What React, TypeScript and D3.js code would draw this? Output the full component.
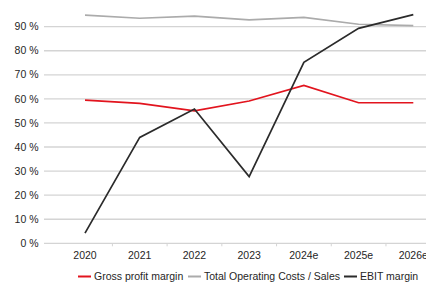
import { useEffect, useRef } from 'react';
import * as d3 from 'd3';

const years = ['2020', '2021', '2022', '2023', '2024e', '2025e', '2026e'];
const grossProfit = [59.5, 58.1, 55.0, 59.1, 65.6, 58.4, 58.4];
const opCosts = [94.8, 93.5, 94.4, 92.8, 93.9, 91.0, 90.4];
const ebit = [4.2, 44.0, 55.8, 27.7, 75.2, 89.3, 95.0];
const yTicks = [0, 10, 20, 30, 40, 50, 60, 70, 80, 90];

const series = [
  { name: 'Gross profit margin', values: grossProfit, color: '#e2141e' },
  { name: 'Total Operating Costs / Sales', values: opCosts, color: '#ababab' },
  { name: 'EBIT margin', values: ebit, color: '#2b2b2b' },
];

const FONT = 'Liberation Sans, Arial, sans-serif';

export default function App() {
  const svgRef = useRef<SVGSVGElement>(null);

  useEffect(() => {
    const svg = d3.select(svgRef.current);
    if (!svg.node()) return;
    svg.selectAll('*').remove();

    const width = 426;
    const height = 282;
    const margin = { top: 2.6, right: 0, bottom: 38.7, left: 44 };

    const x = d3.scalePoint<string>().domain(years).range([85, 413.3]);
    const y = d3
      .scaleLinear()
      .domain([0, 100])
      .range([height - margin.bottom, margin.top]);

    const g = svg.append('g');

    // grid
    g.append('g')
      .selectAll('line')
      .data(yTicks)
      .join('line')
      .attr('x1', margin.left)
      .attr('x2', width)
      .attr('y1', (d) => y(d))
      .attr('y2', (d) => y(d))
      .attr('stroke', '#d4d4d4')
      .attr('stroke-width', 1.3);

    // y labels
    g.append('g')
      .selectAll('text')
      .data(yTicks)
      .join('text')
      .attr('x', 38.5)
      .attr('y', (d) => y(d))
      .attr('dy', '0.35em')
      .attr('text-anchor', 'end')
      .attr('font-family', FONT)
      .attr('font-size', 10.5)
      .attr('fill', '#262626')
      .text((d) => `${d} %`);

    // x ticks
    g.append('g')
      .selectAll('line')
      .data(years)
      .join('line')
      .attr('x1', (d) => x(d)! + 27.4)
      .attr('x2', (d) => x(d)! + 27.4)
      .attr('y1', y(0))
      .attr('y2', y(0) + 3)
      .attr('stroke', '#d4d4d4')
      .attr('stroke-width', 1);

    // x labels
    g.append('g')
      .selectAll('text')
      .data(years)
      .join('text')
      .attr('x', (d) => x(d)!)
      .attr('y', 255)
      .attr('dy', '0.35em')
      .attr('text-anchor', 'middle')
      .attr('font-family', FONT)
      .attr('font-size', 10.5)
      .attr('fill', '#262626')
      .text((d) => d);

    const line = d3
      .line<number>()
      .x((_, i) => x(years[i])!)
      .y((d) => y(d));

    g.append('g')
      .selectAll('path')
      .data(series)
      .join('path')
      .attr('d', (s) => line(s.values))
      .attr('fill', 'none')
      .attr('stroke', (s) => s.color)
      .attr('stroke-width', 1.7)
      .attr('stroke-linejoin', 'miter');

    // legend
    const legendX = [78, 188, 344];
    const lg = g
      .append('g')
      .selectAll('g')
      .data(series)
      .join('g')
      .attr('transform', (_, i) => `translate(${legendX[i]},276.5)`);
    lg.append('line')
      .attr('x1', 0)
      .attr('x2', 13)
      .attr('stroke', (s) => s.color)
      .attr('stroke-width', 2);
    lg.append('text')
      .attr('x', 16)
      .attr('dy', '0.35em')
      .attr('font-family', FONT)
      .attr('font-size', 10.5)
      .attr('fill', '#262626')
      .text((s) => s.name);
  }, []);

  return (
    <svg
      ref={svgRef}
      width={426}
      height={282}
      style={{ position: 'absolute', left: 0, top: 0, background: '#fff' }}
    />
  );
}
